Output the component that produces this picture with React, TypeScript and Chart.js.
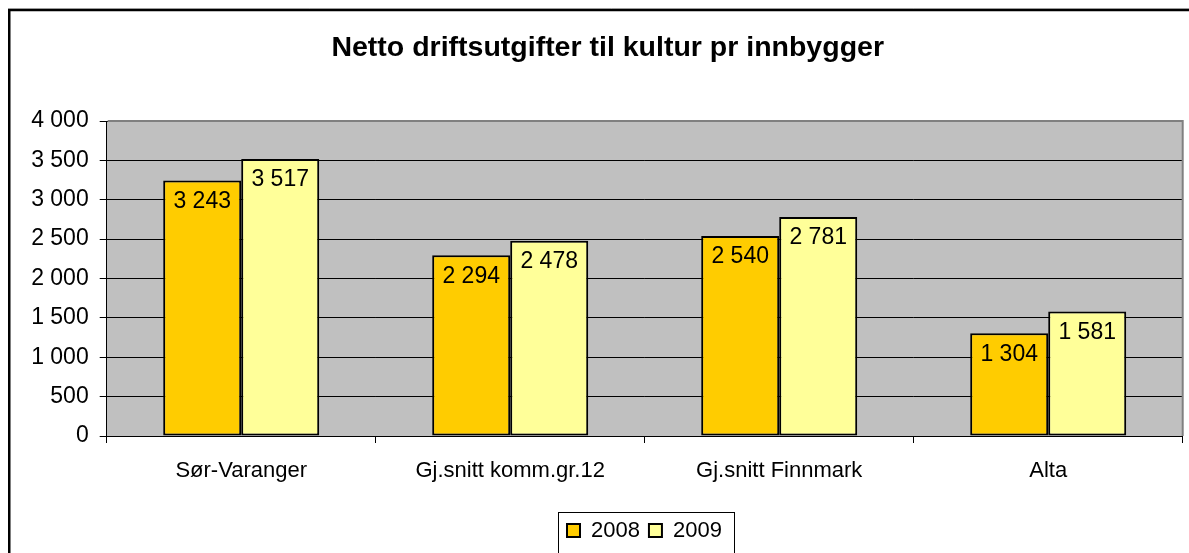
import React, { useEffect, useRef } from "react";
import { Chart, registerables } from "chart.js";

Chart.register(...registerables);

const categories = ["Sør-Varanger", "Gj.snitt komm.gr.12", "Gj.snitt Finnmark", "Alta"];
const series2008 = [3243, 2294, 2540, 1304];
const series2009 = [3517, 2478, 2781, 1581];
const seriesNames = ["2008", "2009"];
const yTicksMax = 4000;
const yTicksStep = 500;
const titleText = "Netto driftsutgifter til kultur pr innbygger";

const W = 1215;
const H = 575;
const FONT = "'Liberation Sans', Arial, sans-serif";

const fmt = (v: number) => String(v).replace(/\B(?=(\d{3})+(?!\d))/g, " ");

const decorPlugin = {
  id: "decor",
  beforeDraw(chart: any) {
    const { ctx, chartArea } = chart;
    ctx.save();
    ctx.fillStyle = "#ffffff";
    ctx.fillRect(0, 0, chart.width, chart.height);
    ctx.strokeStyle = "#d0d0d0";
    ctx.lineWidth = 1;
    ctx.beginPath();
    ctx.moveTo(8, 8.5);
    ctx.lineTo(chart.width, 8.5);
    ctx.stroke();
    ctx.strokeStyle = "#000000";
    ctx.lineWidth = 2.5;
    ctx.strokeRect(9.25, 10, chart.width - 20, chart.height - 20);
    ctx.fillStyle = "#C0C0C0";
    ctx.fillRect(chartArea.left, chartArea.top, chartArea.right - chartArea.left, chartArea.bottom - chartArea.top);
    ctx.restore();
  },
  beforeDatasetsDraw(chart: any) {
    const { ctx, chartArea } = chart;
    ctx.save();
    ctx.strokeStyle = "#808080";
    ctx.lineWidth = 2;
    ctx.beginPath();
    ctx.moveTo(chartArea.left + 1, chartArea.top);
    ctx.lineTo(chartArea.right, chartArea.top);
    ctx.lineTo(chartArea.right, chartArea.bottom);
    ctx.stroke();
    ctx.restore();
  },
  afterDatasetsDraw(chart: any) {
    const { ctx } = chart;
    ctx.save();
    ctx.fillStyle = "#000000";
    ctx.font = `23px ${FONT}`;
    ctx.textAlign = "center";
    ctx.textBaseline = "middle";
    chart.data.datasets.forEach((ds: any, i: number) => {
      const meta = chart.getDatasetMeta(i);
      meta.data.forEach((el: any, j: number) => {
        ctx.fillText(fmt(ds.data[j]), el.x, el.y + 21);
      });
    });
    ctx.restore();
  },
  afterLayout(chart: any) {
    const t = chart.titleBlock;
    if (t) {
      const d = 607.7 - (t.left + t.right) / 2;
      t.left += d;
      t.right += d;
    }
    const lg = chart.legend;
    if (lg && lg.lineWidths) {
      const pad = lg.options.labels.padding;
      const start = (lg.left + pad + lg.right - lg.lineWidths[0]) / 2;
      const d = 567 - start;
      lg.left += d;
      lg.right += d;
    }
  },
  afterDraw(chart: any) {
    const lg = chart.legend;
    if (!lg || !lg.legendHitBoxes || !lg.legendHitBoxes.length) return;
    const hb = lg.legendHitBoxes;
    const first = hb[0];
    const last = hb[hb.length - 1];
    const { ctx } = chart;
    ctx.save();
    ctx.strokeStyle = "#000000";
    ctx.lineWidth = 1;
    const left = Math.round(first.left - 9) + 0.5;
    const right = Math.round(last.left + last.width + 12) + 0.5;
    const top = Math.round(first.top - 7.5) + 0.5;
    const bottom = chart.height - 5;
    ctx.strokeRect(left, top, right - left, bottom - top);
    ctx.restore();
  },
};

export default function App() {
  const ref = useRef<HTMLCanvasElement | null>(null);
  useEffect(() => {
    if (!ref.current) return;
    const chart = new Chart(ref.current, {
      type: "bar",
      data: {
        labels: categories,
        datasets: [
          {
            label: seriesNames[0],
            data: series2008,
            backgroundColor: "#FFCC00",
            borderColor: "#000000",
            borderWidth: 2,
            borderSkipped: false,
            categoryPercentage: 0.58,
            barPercentage: 1,
          },
          {
            label: seriesNames[1],
            data: series2009,
            backgroundColor: "#FFFF99",
            borderColor: "#000000",
            borderWidth: 2,
            borderSkipped: false,
            categoryPercentage: 0.58,
            barPercentage: 1,
          },
        ],
      },
      options: {
        responsive: false,
        animation: false,
        devicePixelRatio: 1,
        layout: { padding: { left: 0, right: W - 1182.7, top: 0, bottom: H - 551.5 } },
        plugins: {
          title: {
            display: true,
            text: titleText,
            color: "#000000",
            font: { family: FONT, size: 28.5, weight: "bold" },
            padding: { top: 31, bottom: 55.8 },
          },
          legend: {
            display: true,
            position: "bottom",
            labels: {
              color: "#000000",
              font: { family: FONT, size: 22 },
              boxWidth: 13,
              boxHeight: 13,
              padding: 9,
            },
          },
          tooltip: { enabled: false },
        },
        scales: {
          x: {
            grid: {
              offset: true,
              drawOnChartArea: false,
              drawTicks: true,
              tickLength: 7,
              color: "#000000",
            },
            border: { color: "#000000", width: 1 },
            ticks: { color: "#000000", font: { family: FONT, size: 22 }, padding: 15, maxRotation: 0, autoSkip: false },
            afterFit: (s: any) => {
              s.height = 74.5;
            },
          },
          y: {
            min: 0,
            max: yTicksMax,
            grid: { color: "#000000", tickLength: 7, drawTicks: true },
            border: { color: "#000000", width: 1 },
            ticks: {
              stepSize: yTicksStep,
              color: "#000000",
              font: { family: FONT, size: 23 },
              padding: 11,
              callback: (v: any) => fmt(Number(v)),
            },
            afterFit: (s: any) => {
              s.width = 106.7;
            },
          },
        },
      },
      plugins: [decorPlugin],
    } as any);
    return () => chart.destroy();
  }, []);
  return (
    <div style={{ position: "absolute", left: 0, top: 0, width: 1189, height: 553, overflow: "hidden", background: "#fff" }}>
      <canvas ref={ref} width={W} height={H} style={{ width: W, height: H, display: "block" }} />
    </div>
  );
}
